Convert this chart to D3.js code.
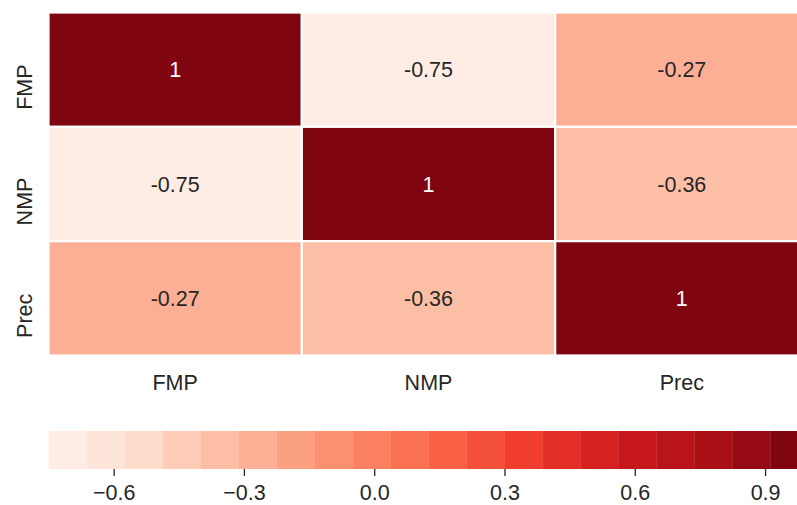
<!DOCTYPE html>
<html>
<head>
<meta charset="utf-8">
<script src="https://cdn.jsdelivr.net/npm/d3@7"></script>
<style>
  html, body { margin: 0; padding: 0; background: #ffffff; }
  svg { display: block; }
  text { font-family: "Liberation Sans", Arial, sans-serif; }
</style>
</head>
<body>
<svg id="chart" width="797" height="505"></svg>
<script>
// Correlation matrix of the three variables
const variables = ["FMP", "NMP", "Prec"];
const rowFMP  = [1, -0.75, -0.27];
const rowNMP  = [-0.75, 1, -0.36];
const rowPrec = [-0.27, -0.36, 1];
const matrix = [rowFMP, rowNMP, rowPrec];

// Colour bar ticks
const barTicks = [-0.6, -0.3, 0.0, 0.3, 0.6, 0.9];

// Value range and number of discrete colour levels
const vmin = -0.75, vmax = 1;
const nLevels = 20;

// Matplotlib "Reds" anchor colours, linearly interpolated
const redsAnchors = ["#fff5f0", "#fee0d2", "#fcbba1", "#fc9272", "#fb6a4a",
                     "#ef3b2c", "#cb181d", "#a50f15", "#67000d"];
const reds = d3.piecewise(d3.interpolateRgb, redsAnchors);
const palette = d3.range(nLevels).map(i => reds((i + 1) / (nLevels + 1)));

const binOf = v => Math.max(0, Math.min(nLevels - 1,
  Math.floor((v - vmin) / (vmax - vmin) * nLevels)));
const colorOf = v => palette[binOf(v)];

const textDark = "#262626";
const fontSize = 21.5;

const svg = d3.select("#chart");

const x = d3.scaleBand().domain(variables).range([48.5, 808.5]).padding(0);
const y = d3.scaleBand().domain(variables).range([12.5, 355.5]).padding(0);

const cells = [];
matrix.forEach((row, r) => row.forEach((v, c) => {
  cells.push({ row: variables[r], col: variables[c], value: v });
}));

// Heatmap cells
svg.append("g").selectAll("rect")
  .data(cells)
  .join("rect")
  .attr("x", d => x(d.col))
  .attr("y", d => y(d.row))
  .attr("width", x.bandwidth())
  .attr("height", y.bandwidth())
  .attr("fill", d => colorOf(d.value))
  .attr("stroke", "#ffffff")
  .attr("stroke-width", 2.2);

// Cell annotations (plain hyphen-minus, as printed by the annotation formatter)
const luminance = c => {
  const rgb = d3.rgb(c);
  const lin = u => { u /= 255; return u <= 0.03928 ? u / 12.92 : Math.pow((u + 0.055) / 1.055, 2.4); };
  return 0.2126 * lin(rgb.r) + 0.7152 * lin(rgb.g) + 0.0722 * lin(rgb.b);
};
svg.append("g").selectAll("text")
  .data(cells)
  .join("text")
  .attr("x", d => x(d.col) + x.bandwidth() / 2)
  .attr("y", d => y(d.row) + y.bandwidth() / 2 + 7.5)
  .attr("text-anchor", "middle")
  .attr("font-size", fontSize)
  .attr("fill", d => luminance(colorOf(d.value)) > 0.408 ? textDark : "#ffffff")
  .text(d => String(+d.value.toFixed(2)));

// Column labels
svg.append("g").selectAll("text")
  .data(variables)
  .join("text")
  .attr("x", d => x(d) + x.bandwidth() / 2)
  .attr("y", 389.5)
  .attr("text-anchor", "middle")
  .attr("font-size", fontSize)
  .attr("fill", textDark)
  .text(d => d);

// Row labels (vertical)
svg.append("g").selectAll("text")
  .data(variables)
  .join("text")
  .attr("transform", d => `translate(31.7,${y(d) + y.bandwidth() / 2 + 17.5}) rotate(-90)`)
  .attr("text-anchor", "middle")
  .attr("font-size", fontSize)
  .attr("fill", textDark)
  .text(d => d);

// Horizontal colour bar
const cb = d3.scaleLinear().domain([vmin, vmax]).range([48.5, 808.5]);
const step = (vmax - vmin) / nLevels;
const barTop = 431, barBottom = 469;

svg.append("g").selectAll("rect")
  .data(palette)
  .join("rect")
  .attr("x", (c, i) => cb(vmin + i * step))
  .attr("y", barTop)
  .attr("width", (c, i) => cb(vmin + (i + 1) * step) - cb(vmin + i * step) + 0.3)
  .attr("height", barBottom - barTop)
  .attr("fill", c => c);

const cbAxis = svg.append("g")
  .attr("transform", `translate(0,${barBottom})`)
  .call(d3.axisBottom(cb)
    .tickValues(barTicks)
    .tickSize(7)
    .tickPadding(8.7)
    .tickFormat(d => d3.format(".1f")(d).replace("-", "\u2212")));
cbAxis.select(".domain").remove();
cbAxis.selectAll(".tick line").attr("stroke", textDark).attr("stroke-width", 1.3);
cbAxis.selectAll(".tick text")
  .attr("font-size", fontSize)
  .attr("font-family", "\"Liberation Sans\", Arial, sans-serif")
  .attr("fill", textDark);
</script>
</body>
</html>
